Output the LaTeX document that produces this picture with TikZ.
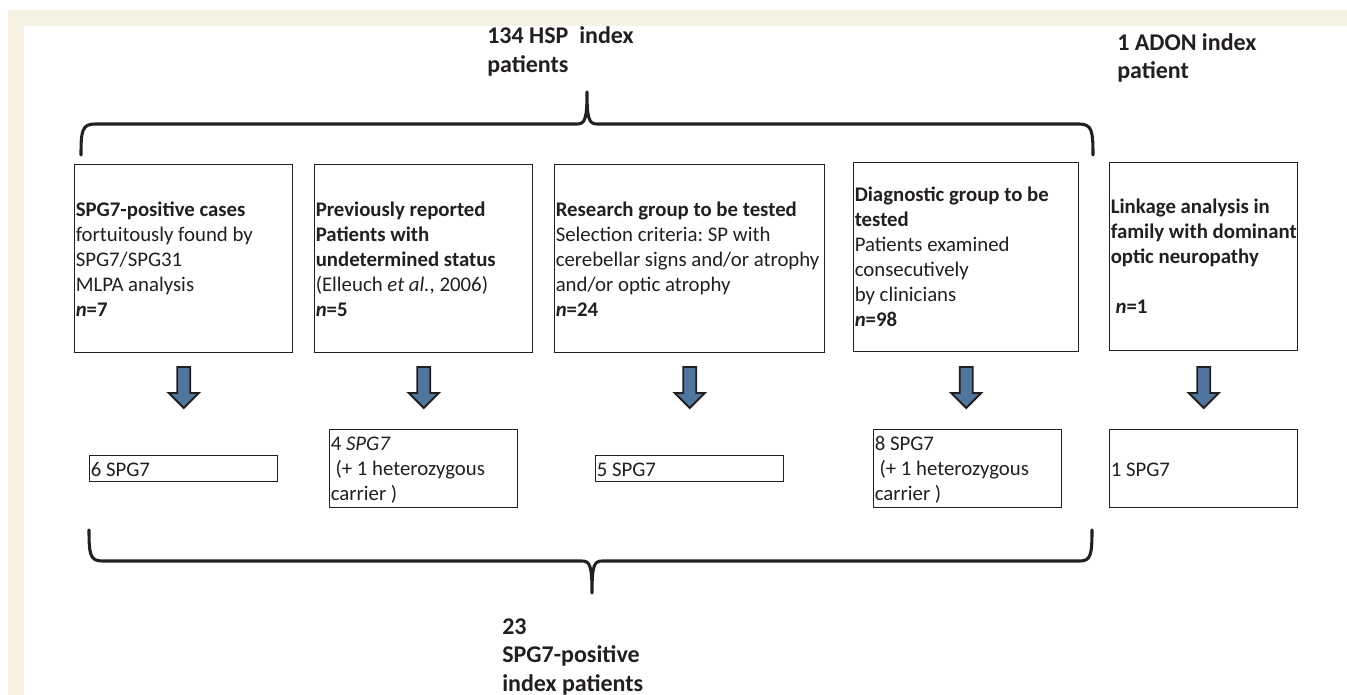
\documentclass[tikz,border=0pt]{standalone}
\usepackage{fontspec}
\setmainfont{Carlito}
\usetikzlibrary{calc}
\frenchspacing
\definecolor{cream}{RGB}{245,242,228}
\definecolor{ink}{RGB}{35,31,32}
\definecolor{arrowblue}{RGB}{80,118,158}
\tikzset{
  box/.style={draw=ink, line width=1.1pt, rectangle, inner sep=0pt, anchor=north west},
  boxtext/.style={anchor=north west, inner sep=0pt, align=left, text=ink, font=\fontsize{15.6}{18.75}\selectfont},
  bigtext/.style={anchor=north west, inner sep=0pt, align=left, text=ink, font=\bfseries\fontsize{18}{21.75}\selectfont},
  brace/.style={draw=ink, line width=2.3pt, line join=round, line cap=round},
  downarrow/.pic={\draw[draw=ink, fill=arrowblue, line width=1.4pt, line join=miter] (-6.5,0) -- (6.5,0) -- (6.5,26) -- (15,26) -- (0,41) -- (-15,26) -- (-6.5,26) -- cycle;}
}
\newcommand{\lsp}{\hspace*{0.23em}}
\begin{document}
\begin{tikzpicture}[x=0.75pt, y=-0.75pt]
\useasboundingbox (0,0) rectangle (1347,695);
% frame
\fill[white] (0,0) rectangle (1347,695);
\fill[cream] (8,10) rectangle (1347,695);
\fill[white] (24,26) rectangle (1347,695);

% top labels
\node[bigtext] (hsp) at (487,22.7) {\strut 134 HSP\ \ index\\patients};
\node[bigtext, font=\bfseries\fontsize{18}{21}\selectfont] (adon) at (1117,30.4) {\strut 1 ADON index\\patient};

% top brace
\draw[brace] (81,155) .. controls (81,131) and (82,124) .. (95,124) -- (577,124)
  .. controls (585,124) and (587,119) .. (587,92)
  .. controls (587,119) and (589,124) .. (597,124) -- (1079,124)
  .. controls (1092,124) and (1093,131) .. (1093,155);

% top boxes
\node[box, minimum width=218*0.75pt, minimum height=188*0.75pt] (t1) at (74,164) {};
\node[box, minimum width=218*0.75pt, minimum height=188*0.75pt] (t2) at (314,164) {};
\node[box, minimum width=270*0.75pt, minimum height=188*0.75pt] (t3) at (554,164) {};
\node[box, minimum width=225*0.75pt, minimum height=189*0.75pt] (t4) at (853,162) {};
\node[box, minimum width=188*0.75pt, minimum height=188*0.75pt] (t5) at (1109,162) {};

\node[boxtext] (t1x) at (75.5,198.5) {\strut\textbf{SPG7-positive cases}\\fortuitously found by\\SPG7/SPG31\\MLPA analysis\\\textbf{\textit{n}=7}};
\node[boxtext] (t2x) at (315.5,198.5) {\strut\textbf{Previously reported}\\\textbf{Patients with}\\\textbf{undetermined status}\\(Elleuch \textit{et al.}, 2006)\\\textbf{\textit{n}=5}};
\node[boxtext] (t3x) at (555.5,198.5) {\strut\textbf{Research group to be tested}\\Selection criteria: SP with\\cerebellar signs and/or atrophy\\and/or optic atrophy\\\textbf{\textit{n}=24}};
\node[boxtext] (t4x) at (854.5,183.5) {\strut\textbf{Diagnostic group to be}\\\textbf{tested}\\Patients examined\\consecutively\\by clinicians\\\textbf{\textit{n}=98}};
\node[boxtext] (t5x) at (1110.5,195.5) {\strut\textbf{Linkage analysis in}\\\textbf{family with dominant}\\\textbf{optic neuropathy}\\\mbox{}\\\lsp\textbf{\textit{n}=1}};

% bottom boxes
\node[box, minimum width=188*0.75pt, minimum height=26*0.75pt] (b1) at (89,455) {};
\node[box, minimum width=188*0.75pt, minimum height=78*0.75pt] (b2) at (329,429) {};
\node[box, minimum width=188*0.75pt, minimum height=26*0.75pt] (b3) at (595,455) {};
\node[box, minimum width=188*0.75pt, minimum height=78*0.75pt] (b4) at (873,429) {};
\node[box, minimum width=188*0.75pt, minimum height=78*0.75pt] (b5) at (1109,429) {};

\node[boxtext] (b1x) at (90.5,458.5) {\strut 6 SPG7};
\node[boxtext] (b2x) at (330.5,432.5) {\strut 4 \textit{SPG7}\\\lsp(+ 1 heterozygous\\carrier )};
\node[boxtext] (b3x) at (596.5,458.5) {\strut 5 SPG7};
\node[boxtext] (b4x) at (874.5,432.5) {\strut 8 SPG7\\\lsp(+ 1 heterozygous\\carrier )};
\node[boxtext] (b5x) at (1110.5,458.5) {\strut 1 SPG7};

% arrows
\coordinate (arow) at (0,367);
\foreach \n in {t1,t2,t3,t4,t5} {\pic at (\n.south |- arow) {downarrow};}

% bottom brace
\draw[brace] (89,530) .. controls (89,554) and (90,561) .. (102,561) -- (582,561)
  .. controls (590,561) and (592,566) .. (592,593)
  .. controls (592,566) and (594,561) .. (602,561) -- (1080,561)
  .. controls (1091,561) and (1092,554) .. (1092,530);

\node[bigtext, font=\bfseries\fontsize{18}{21.375}\selectfont] (total) at (502,614) {\strut 23\\SPG7-positive\\index patients};
\end{tikzpicture}
\end{document}
